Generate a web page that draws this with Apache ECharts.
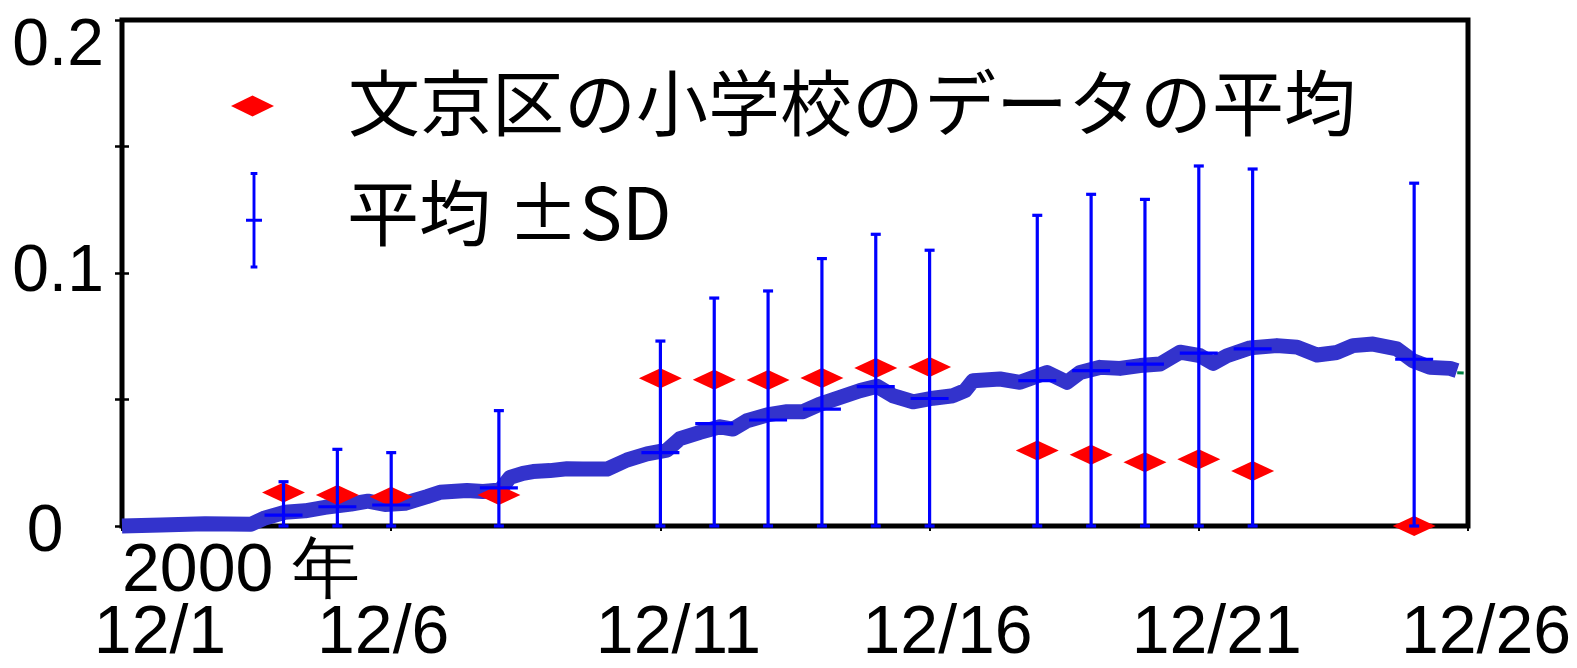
<!DOCTYPE html>
<html>
<head>
<meta charset="utf-8">
<script src="https://cdn.jsdelivr.net/npm/echarts@6/dist/echarts.min.js"></script>
<style>
  html, body { margin: 0; padding: 0; background: #fff; }
  #chart { width: 1577px; height: 668px; }
</style>
</head>
<body>
<div id="chart"></div>
<script>
// Series names (legend text)
const schoolName = '文京区の小学校のデータの平均';
const meanName = '平均 ±SD';
const yearLabel = '2000 年';

// Tick labels
const xTickLabels = ['12/1', '12/6', '12/11', '12/16', '12/21', '12/26'];
const yTickValues = [0, 0.1, 0.2];
const yTickLabels = ['0', '0.1', '0.2'];

// Days of December with school samples
const sampleDays = [4, 5, 6, 8, 11, 12, 13, 14, 15, 16, 18, 19, 20, 21, 22, 25];
// School average (red diamonds)
const schoolAvg = [0.0132, 0.0123, 0.0116, 0.0123, 0.0584, 0.0578, 0.0577, 0.0585,
                   0.0625, 0.0628, 0.0298, 0.0282, 0.0252, 0.0264, 0.0217, 0.0];
// Daily mean and standard deviation (blue error bars)
const dailyMean = [0.0043, 0.0076, 0.0083, 0.0151, 0.0290, 0.0405, 0.0419, 0.0462,
                   0.0551, 0.0504, 0.0575, 0.0614, 0.0640, 0.0683, 0.0700, 0.0659];
const dailySD   = [0.0132, 0.0227, 0.0207, 0.0305, 0.0441, 0.0496, 0.0510, 0.0595,
                   0.0602, 0.0586, 0.0653, 0.0697, 0.0651, 0.0740, 0.0711, 0.0696];

// Continuous record, days elapsed since 12/1 00:00
const traceDay = [0.000, 0.724, 1.542, 2.396, 2.656, 3.027, 3.399, 3.770, 4.253, 4.569,
                  4.885, 5.256, 5.665, 5.906, 6.408, 6.705, 7.021, 7.207, 7.448, 7.634,
                  7.949, 8.265, 8.562, 9.008, 9.380, 9.751, 10.122, 10.364, 10.735, 11.107,
                  11.348, 11.608, 11.980, 12.351, 12.649, 12.964, 13.336, 13.707, 14.023, 14.320,
                  14.692, 15.063, 15.435, 15.657, 15.806, 16.308, 16.679, 17.180, 17.552, 17.793,
                  18.165, 18.536, 18.908, 19.279, 19.651, 20.022, 20.264, 20.524, 20.951, 21.452,
                  21.824, 22.195, 22.567, 22.864, 23.235, 23.681, 23.978, 24.294, 24.666, 24.796];
const traceValue = [0.0000, 0.0004, 0.0009, 0.0007, 0.0032, 0.0054, 0.0060, 0.0074, 0.0087, 0.0098,
                    0.0085, 0.0090, 0.0116, 0.0133, 0.0140, 0.0136, 0.0142, 0.0192, 0.0208, 0.0215,
                    0.0219, 0.0226, 0.0225, 0.0225, 0.0261, 0.0285, 0.0300, 0.0345, 0.0370, 0.0392,
                    0.0383, 0.0416, 0.0439, 0.0452, 0.0452, 0.0482, 0.0508, 0.0535, 0.0552, 0.0515,
                    0.0491, 0.0505, 0.0515, 0.0535, 0.0574, 0.0581, 0.0568, 0.0607, 0.0568, 0.0607,
                    0.0627, 0.0623, 0.0634, 0.0640, 0.0687, 0.0673, 0.0643, 0.0673, 0.0704, 0.0713,
                    0.0707, 0.0676, 0.0686, 0.0713, 0.0719, 0.0700, 0.0653, 0.0627, 0.0623, 0.0614];
// Short tail of the secondary record
const tailDay = [24.80, 24.92];
const tailValue = [0.0606, 0.0605];

const latin = '"Liberation Sans", Arial, sans-serif';
const narrow = '"Liberation Sans Narrow", "Liberation Sans", Arial, sans-serif';
const cjk = '"Noto Sans CJK JP", sans-serif';

const chart = echarts.init(document.getElementById('chart'), null, { renderer: 'canvas' });

const schoolData = sampleDays.map((d, i) => [d - 1, schoolAvg[i]]);
const barData = sampleDays.map((d, i) => [
  d - 1,
  Math.max(0, dailyMean[i] - dailySD[i]),
  dailyMean[i] + dailySD[i],
  dailyMean[i]
]);
const traceData = traceDay.map((d, i) => [d, traceValue[i]]);
const tailData = tailDay.map((d, i) => [d, tailValue[i]]);

const BLUE = '#0000ff';

function renderErrorBar(params, api) {
  const x = api.value(0);
  const lo = api.coord([x, api.value(1)]);
  const hi = api.coord([x, api.value(2)]);
  const mid = api.coord([x, api.value(3)]);
  const style = { stroke: BLUE, lineWidth: 3.2, fill: null };
  const cap = 5, bar = 19;
  return {
    type: 'group',
    children: [
      { type: 'line', shape: { x1: hi[0], y1: hi[1], x2: lo[0], y2: lo[1] }, style },
      { type: 'line', shape: { x1: hi[0] - cap, y1: hi[1], x2: hi[0] + cap, y2: hi[1] }, style },
      { type: 'line', shape: { x1: lo[0] - cap, y1: lo[1], x2: lo[0] + cap, y2: lo[1] }, style },
      { type: 'line', shape: { x1: mid[0] - bar, y1: mid[1], x2: mid[0] + bar, y2: mid[1] }, style }
    ]
  };
}

// Legend icon for the error bar entry: stem, two caps and a cross bar
const errorBarIcon = 'path://M6.8,0h3v100h-3z M4.8,0h7v3h-7z M4.8,97h7v3h-7z M0,48.5h16.6v3h-16.6z';

const xRich = {
  a0: { fontFamily: latin, fontSize: 68, lineHeight: 62, color: '#000', padding: [0, 0, 0, 76] },
  a1: { fontFamily: latin, fontSize: 68, lineHeight: 62, color: '#000', padding: [0, 16, 0, 0] },
  an: { fontFamily: latin, fontSize: 68, lineHeight: 62, color: '#000', padding: [0, 0, 0, 36] }
};

const yRich = {
  top: { fontFamily: narrow, fontSize: 66, color: '#000', padding: [54, 0, 0, 0] },
  mid: { fontFamily: narrow, fontSize: 66, color: '#000' },
  bot: { fontFamily: narrow, fontSize: 66, color: '#000', padding: [14, 26, 0, 0] }
};

const dayAxisBase = { type: 'value', min: 0, max: 25, interval: 5, splitLine: { show: false }, axisLine: { show: false } };

const option = {
  animation: false,
  backgroundColor: '#ffffff',
  grid: {
    left: 122, right: 109, top: 20, bottom: 142,
    outerBoundsMode: 'none',
    show: true, borderColor: '#000', borderWidth: 5, backgroundColor: 'transparent'
  },
  legend: [
    {
      data: [schoolName],
      left: 226, top: 62,
      itemWidth: 43, itemHeight: 21,
      icon: 'diamond',
      selectedMode: false,
      formatter: '{t|{name}}',
      textStyle: {
        rich: { t: { fontFamily: cjk, fontSize: 72, lineHeight: 80, color: '#000', padding: [0, 0, 6, 69] } }
      }
    },
    {
      data: [meanName],
      left: 241, top: 167,
      itemWidth: 16, itemHeight: 101,
      icon: errorBarIcon,
      selectedMode: false,
      formatter: '{t|{name}}',
      textStyle: {
        rich: { t: { fontFamily: cjk, fontSize: 72, lineHeight: 80, color: '#000', padding: [0, 0, 16, 80] } }
      }
    }
  ],
  xAxis: [
    Object.assign({}, dayAxisBase, {
      position: 'bottom',
      axisTick: { show: true, inside: true, length: 5, lineStyle: { color: '#000', width: 2 } },
      axisLabel: {
        margin: 77,
        showMinLabel: true,
        showMaxLabel: true,
        formatter: function (v) {
          const i = Math.round(v / 5);
          const key = i === 0 ? 'a0' : (i === 1 ? 'a1' : 'an');
          return '{' + key + '|' + xTickLabels[i] + '}';
        },
        rich: xRich
      }
    }),
    Object.assign({}, dayAxisBase, {
      position: 'top',
      axisTick: { show: true, inside: true, length: 5, lineStyle: { color: '#000', width: 2 } },
      axisLabel: { show: false }
    }),
    // Year caption under the first day
    Object.assign({}, dayAxisBase, {
      position: 'bottom',
      axisTick: { show: false },
      axisLabel: {
        margin: 15, align: 'left',
        showMinLabel: true,
        fontFamily: latin, fontSize: 68, lineHeight: 62, color: '#000',
        formatter: function (v) { return v === 0 ? yearLabel : ''; }
      }
    })
  ],
  yAxis: [
    {
      type: 'value', min: 0, max: 0.2, interval: 0.05, position: 'left',
      axisLine: { show: false },
      axisTick: { show: true, inside: true, length: 7, lineStyle: { color: '#000', width: 2.5 } },
      splitLine: { show: false },
      axisLabel: {
        margin: 64, align: 'center',
        showMinLabel: true,
        showMaxLabel: true,
        formatter: function (v) {
          const k = yTickValues.findIndex(t => Math.abs(t - v) < 1e-9);
          if (k < 0) return '';
          const key = k === 0 ? 'bot' : (k === 1 ? 'mid' : 'top');
          return '{' + key + '|' + yTickLabels[k] + '}';
        },
        rich: yRich
      }
    },
    {
      type: 'value', min: 0, max: 0.2, interval: 0.05, position: 'right',
      axisLine: { show: false },
      axisTick: { show: true, inside: true, length: 7, lineStyle: { color: '#000', width: 2.5 } },
      splitLine: { show: false },
      axisLabel: { show: false }
    }
  ],
  series: [
    {
      name: 'tail', type: 'line', data: tailData, z: 1,
      showSymbol: false, clip: false, silent: true,
      lineStyle: { color: '#008040', width: 3 }
    },
    {
      name: 'trace', type: 'line', data: traceData, z: 2,
      showSymbol: false, clip: false, silent: true,
      lineStyle: { color: '#3333cc', width: 15, cap: 'butt', join: 'round' }
    },
    {
      name: schoolName, type: 'scatter', data: schoolData, z: 3,
      symbol: 'diamond', symbolSize: [43, 20],
      itemStyle: { color: '#ff0000', opacity: 1 },
      silent: true
    },
    {
      name: meanName, type: 'custom', data: barData, z: 4,
      renderItem: renderErrorBar,
      encode: { x: 0, y: [1, 2, 3] },
      itemStyle: { color: BLUE },
      silent: true
    }
  ]
};

chart.setOption(option);
</script>
</body>
</html>
